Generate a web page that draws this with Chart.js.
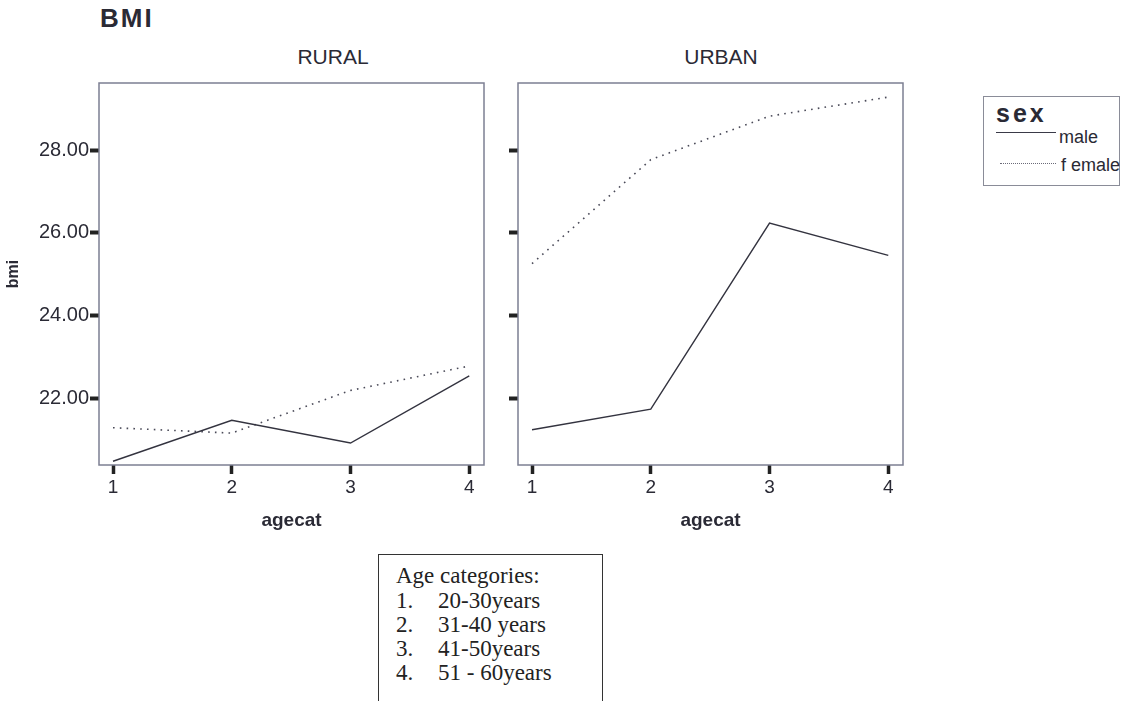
<!DOCTYPE html>
<html>
<head>
<meta charset="utf-8">
<script src="https://cdn.jsdelivr.net/npm/chart.js@4"></script>
<style>
  html, body { margin: 0; padding: 0; background: #ffffff; }
  body { width: 1125px; height: 701px; position: relative; overflow: hidden; font-family: "Liberation Sans", Arial, sans-serif; color: #2a2a35; }
  canvas { position: absolute; }
  .abs { position: absolute; white-space: nowrap; }
  #title { left: 100px; top: 2px; font-size: 26px; font-weight: bold; letter-spacing: 2px; line-height: 32px; }
  .panel { font-size: 21px; line-height: 24px; top: 45px; transform: translateX(-50%); }
  #legend { left: 983px; top: 96px; width: 137px; height: 90px; border: 1px solid #8a8c98; box-sizing: border-box; }
  #legend .hd { left: 12px; top: 0px; font-size: 25px; font-weight: bold; letter-spacing: 3px; line-height: 32px; }
  #legend .ln { left: 12px; width: 60px; height: 0; }
  #legend .lab { font-size: 18px; line-height: 20px; }
  #agebox { left: 378px; top: 554px; width: 225px; height: 150px; border: 1.5px solid #333; box-sizing: border-box; font-family: "Liberation Serif", "Times New Roman", serif; font-size: 23px; color: #222; }
  #agebox .row { position: absolute; left: 17px; line-height: 24px; }
  #agebox .num { display: inline-block; width: 42px; }
</style>
</head>
<body>
<div id="title" class="abs">BMI</div>
<div class="abs panel" style="left:333px">RURAL</div>
<div class="abs panel" style="left:721px">URBAN</div>
<canvas id="c1" width="495" height="470" style="left:0px;top:70px"></canvas>
<canvas id="c2" width="420" height="470" style="left:495px;top:70px"></canvas>
<div id="legend" class="abs">
  <div class="abs hd">sex</div>
  <div class="abs ln" style="top:35px;border-top:1.5px solid #3a3a48"></div>
  <div class="abs lab" style="left:75px;top:30px">male</div>
  <div class="abs ln" style="top:66px;left:16px;width:56px;border-top:1.5px dotted #6a6a78"></div>
  <div class="abs lab" style="left:77px;top:58px">f emale</div>
</div>
<div id="agebox" class="abs">
  <div class="row" style="top:9px">Age categories:</div>
  <div class="row" style="top:34px"><span class="num">1.</span>20-30years</div>
  <div class="row" style="top:58px"><span class="num">2.</span>31-40 years</div>
  <div class="row" style="top:82px"><span class="num">3.</span>41-50years</div>
  <div class="row" style="top:106px"><span class="num">4.</span>51 - 60years</div>
</div>
<script>
// ---- data ----
const agecat = [1, 2, 3, 4];
const ruralMale = [20.49, 21.48, 20.93, 22.55];
const ruralFemale = [21.30, 21.17, 22.20, 22.79];
const urbanMale = [21.25, 21.75, 26.24, 25.46];
const urbanFemale = [25.26, 27.77, 28.82, 29.28];
const yTicks = [22, 24, 26, 28];
const xTicks = [1, 2, 3, 4];
const seriesNames = ['male', 'female'];

const LINE = '#33333f';
const TXT = '#2a2a35';
const FONT = '"Liberation Sans", Arial, sans-serif';

const boxPlugin = {
  id: 'box',
  beforeDatasetsDraw(chart) {
    const a = chart.chartArea, ctx = chart.ctx;
    ctx.save();
    ctx.strokeStyle = '#7c7f92';
    ctx.lineWidth = 1.5;
    ctx.strokeRect(a.left, a.top, a.right - a.left, a.bottom - a.top);
    ctx.restore();
  }
};

function pts(vals) { return agecat.map((x, i) => ({ x: x, y: vals[i] })); }

function makeChart(id, male, female, yWidth, padRight, showYLabels) {
  return new Chart(document.getElementById(id), {
    type: 'line',
    data: {
      datasets: [
        { label: seriesNames[0], data: pts(male), borderColor: LINE, borderWidth: 1.4, pointRadius: 0, tension: 0, fill: false },
        { label: seriesNames[1], data: pts(female), borderColor: '#4a4a58', borderWidth: 1.6, borderDash: [1.6, 5.2], pointRadius: 0, tension: 0, fill: false }
      ]
    },
    options: {
      responsive: false,
      animation: false,
      devicePixelRatio: 1,
      layout: { padding: { top: 11, right: padRight, bottom: 0, left: 0 } },
      plugins: { legend: { display: false }, tooltip: { enabled: false }, title: { display: false } },
      scales: {
        x: {
          type: 'linear', min: 0.882, max: 4.124,
          afterBuildTicks(s) { s.ticks = xTicks.map(v => ({ value: v })); },
          afterFit(s) { s.height = 75; },
          border: { display: false },
          grid: { drawOnChartArea: false, drawTicks: true, tickLength: 9, tickWidth: 3.5, tickColor: '#222' },
          ticks: { color: TXT, font: { family: FONT, size: 19 }, padding: 2, maxRotation: 0, autoSkip: false, callback: v => String(v) },
          title: { display: true, text: 'agecat', color: TXT, font: { family: FONT, size: 19, weight: 'bold' }, padding: { top: 0, bottom: 8 } }
        },
        y: {
          type: 'linear', min: 20.40, max: 29.62,
          afterBuildTicks(s) { s.ticks = yTicks.map(v => ({ value: v })); },
          afterFit(s) { s.width = yWidth; },
          border: { display: false },
          grid: { drawOnChartArea: false, drawTicks: true, tickLength: 9, tickWidth: 4, tickColor: '#222' },
          ticks: { color: TXT, font: { family: FONT, size: 20 }, padding: 1, autoSkip: false,
                   callback: v => showYLabels ? Number(v).toFixed(2) : '' },
          title: { display: showYLabels, text: 'bmi', color: TXT, font: { family: FONT, size: 16, weight: 'bold' }, padding: { top: 4, bottom: 0 } }
        }
      }
    },
    plugins: [boxPlugin]
  });
}

makeChart('c1', ruralMale, ruralFemale, 99, 11, true);
makeChart('c2', urbanMale, urbanFemale, 23, 12, false);
</script>
</body>
</html>
